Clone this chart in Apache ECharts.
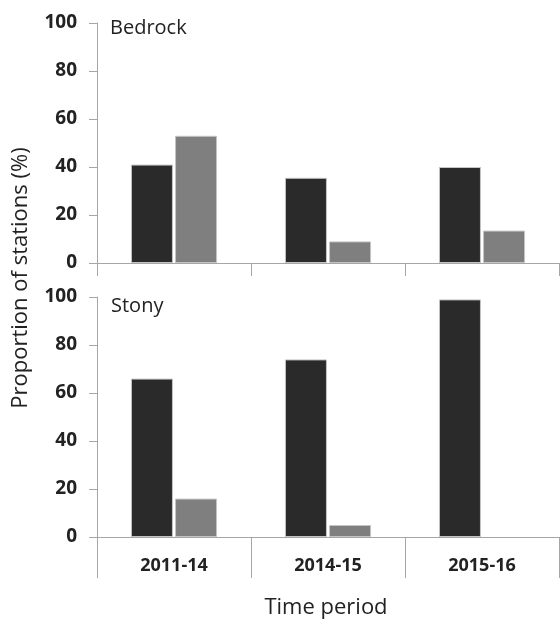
<!DOCTYPE html>
<html>
<head>
<meta charset="utf-8">
<script src="https://cdn.jsdelivr.net/npm/echarts@6/dist/echarts.min.js"></script>
<style>
html,body{margin:0;padding:0;background:#fff;}
#chart{width:560px;height:621px;}
</style>
</head>
<body>
<div id="chart"></div>
<script>
var categories = ['2011-14', '2014-15', '2015-16'];
var bedrockDark = [41, 35.5, 40];
var bedrockGray = [53, 9, 13.5];
var stonyDark = [66, 74, 99];
var stonyGray = [16, 5, 0];
var yTicks = [0, 20, 40, 60, 80, 100];

var FONT = '"Open Sans", sans-serif';
var AXIS_COLOR = '#a6a6a6';
var TEXT_COLOR = '#222222';
var DARK = '#2a2a2a';
var GRAY = '#7f7f7f';
var BORDER = '#c4c4c4';

var chart = echarts.init(document.getElementById('chart'), null, {renderer: 'canvas'});

function yAxis(gridIndex) {
  return {
    type: 'value', gridIndex: gridIndex,
    min: yTicks[0], max: yTicks[yTicks.length - 1], interval: yTicks[1] - yTicks[0],
    axisLine: {show: true, lineStyle: {color: AXIS_COLOR, width: 1}},
    axisTick: {show: true, length: 8, lineStyle: {color: AXIS_COLOR, width: 1}},
    splitLine: {show: false},
    axisLabel: {margin: 20, fontFamily: FONT, fontSize: 19, fontWeight: 'bold', color: TEXT_COLOR}
  };
}
function xAxis(gridIndex, tickLen, showLabel) {
  return {
    type: 'category', gridIndex: gridIndex, data: categories,
    axisLine: {show: true, lineStyle: {color: AXIS_COLOR, width: 1}},
    axisTick: {show: true, length: tickLen, alignWithLabel: false, lineStyle: {color: AXIS_COLOR, width: 1}},
    axisLabel: {show: showLabel, margin: 20, fontFamily: FONT, fontSize: 18, fontWeight: 'bold', color: TEXT_COLOR}
  };
}
function bar(name, data, idx, color) {
  return {
    name: name, type: 'bar',
    data: data.map(function (v) {
      return v === 0 ? {value: v, itemStyle: {borderWidth: 0}} : v;
    }),
    xAxisIndex: idx, yAxisIndex: idx,
    barWidth: 42, barGap: '5%',
    itemStyle: {color: color, borderColor: BORDER, borderWidth: 1},
    silent: true
  };
}

chart.setOption({
  animation: false,
  backgroundColor: '#ffffff',
  grid: [
    {left: 97, top: 23, width: 462, height: 240, containLabel: false},
    {left: 97, top: 297, width: 462, height: 240, containLabel: false}
  ],
  xAxis: [xAxis(0, 13, false), xAxis(1, 41, true)],
  yAxis: [yAxis(0), yAxis(1)],
  series: [
    bar('Bedrock dark', bedrockDark, 0, DARK),
    bar('Bedrock gray', bedrockGray, 0, GRAY),
    bar('Stony dark', stonyDark, 1, DARK),
    bar('Stony gray', stonyGray, 1, GRAY)
  ],
  graphic: [
    {type: 'text', left: 110, top: 18, style: {text: 'Bedrock', font: '20px ' + FONT, fill: TEXT_COLOR}},
    {type: 'text', left: 111, top: 296, style: {text: 'Stony', font: '20px ' + FONT, fill: TEXT_COLOR}},
    {type: 'text', x: 21, y: 278, rotation: Math.PI / 2,
      style: {text: 'Proportion of stations (%)', font: '22px ' + FONT, fill: TEXT_COLOR, align: 'center', verticalAlign: 'middle'}},
    {type: 'text', x: 326, y: 608,
      style: {text: 'Time period', font: '22px ' + FONT, fill: TEXT_COLOR, align: 'center', verticalAlign: 'middle'}}
  ]
});
</script>
</body>
</html>
